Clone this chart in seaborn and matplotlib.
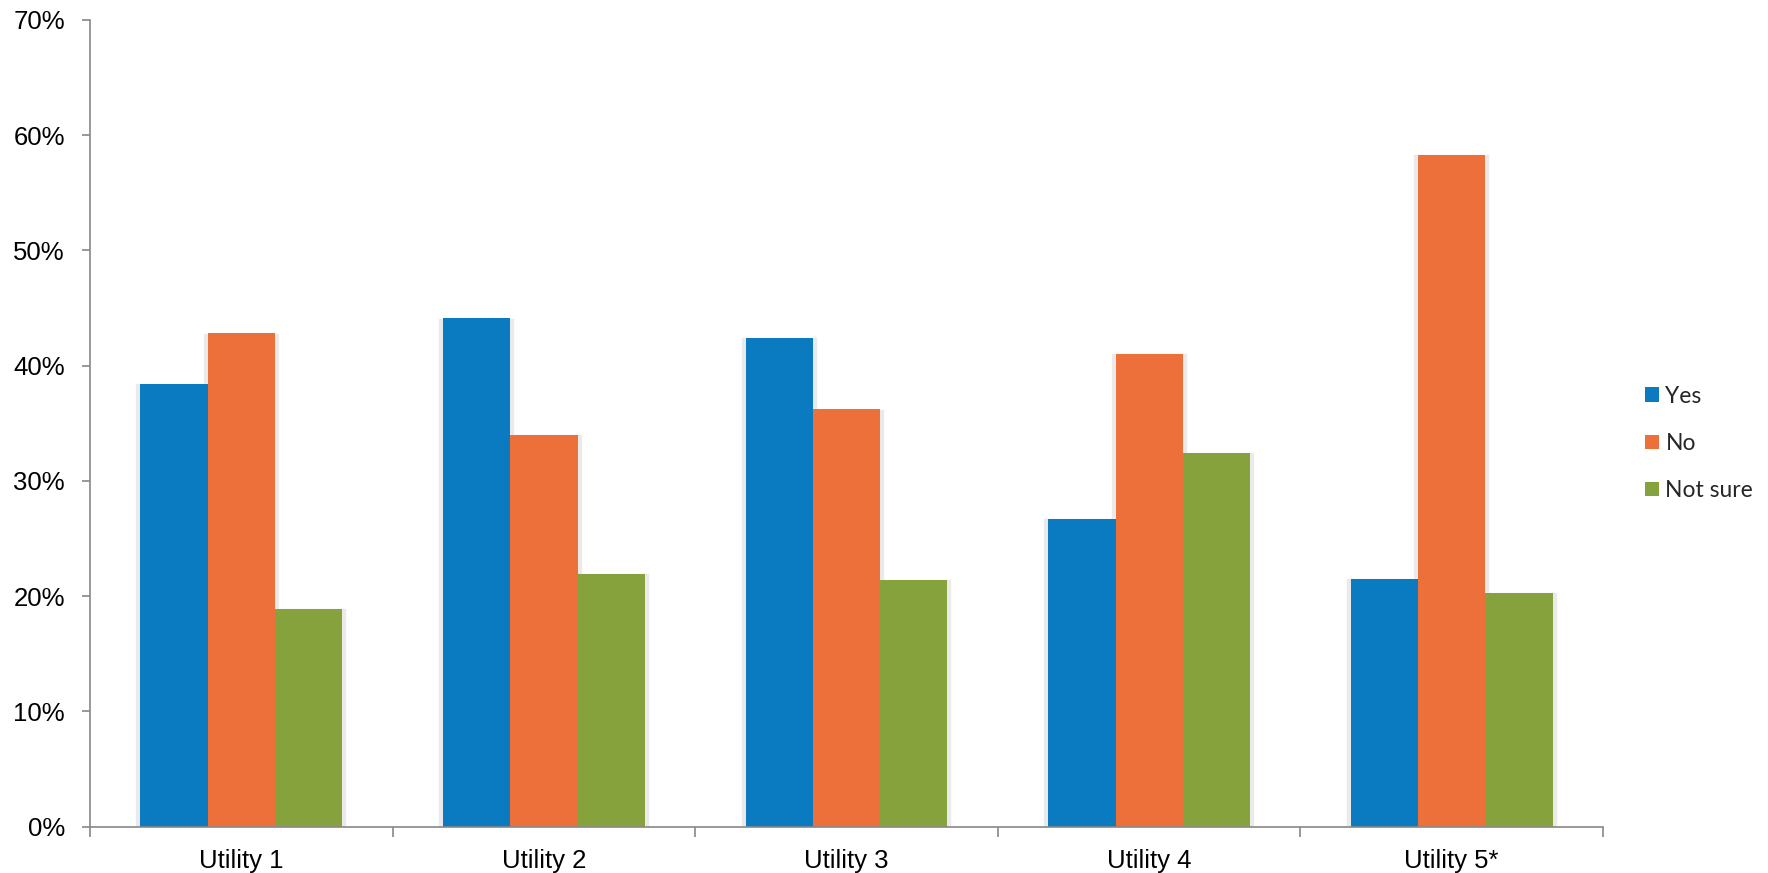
import matplotlib
matplotlib.use("Agg")
import matplotlib.pyplot as plt
import matplotlib.patheffects as pe
from matplotlib.ticker import FuncFormatter, FixedLocator
import seaborn as sns
import pandas as pd

# Survey responses by utility (share of respondents, %)
utilities = ["Utility 1", "Utility 2", "Utility 3", "Utility 4", "Utility 5*"]
answers = ["Yes", "No", "Not sure"]
yes_pct = [38.4, 44.1, 42.4, 26.7, 21.5]
no_pct = [42.8, 34.0, 36.2, 41.0, 58.3]
not_sure_pct = [18.9, 21.9, 21.4, 32.4, 20.3]
y_ticks = [0, 10, 20, 30, 40, 50, 60, 70]

colors = ["#0B7BC1", "#ED703A", "#85A23D"]

df = pd.DataFrame({
    "utility": utilities * 3,
    "answer": [a for a in answers for _ in utilities],
    "pct": yes_pct + no_pct + not_sure_pct,
})

sns.set_theme(style="white")
plt.rcParams["font.family"] = ["Liberation Sans", "DejaVu Sans"]

fig = plt.figure(figsize=(17.68, 8.73), dpi=100)
ax = fig.add_axes([0.0509, 0.0532, 0.8558, 0.924])

bar_kw = dict(data=df, x="utility", y="pct", hue="answer", order=utilities,
              hue_order=answers, width=2 / 3, gap=0, saturation=1,
              linewidth=0, errorbar=None, ax=ax)

# soft drop-shadow layer drawn first, underneath all bars
sns.barplot(palette=["#ececec"] * 3, legend=False, **bar_kw)
shadow = [pe.SimplePatchShadow(offset=(0, -3), shadow_rgbFace="#eaeaea",
                               alpha=1.0, foreground="#eaeaea", linewidth=6)]
for bar in ax.patches:
    bar.set_path_effects(shadow)
    bar.set_zorder(1)
n_shadow = len(ax.patches)

# the bars themselves
sns.barplot(palette=colors, **bar_kw)
for bar in ax.patches[n_shadow:]:
    bar.set_zorder(2)

ax.set_ylim(0, 70)
ax.set_xlim(-0.5, len(utilities) - 0.5)
ax.set_yticks(y_ticks)
ax.yaxis.set_major_formatter(FuncFormatter(lambda v, _: f"{v:.0f}%"))
ax.set_xlabel("")
ax.set_ylabel("")

# category boundaries carry the x tick marks
ax.xaxis.set_minor_locator(FixedLocator([i - 0.5 for i in range(len(utilities) + 1)]))
ax.tick_params(axis="x", which="major", length=0, pad=16, labelsize=18.5,
               labelcolor="black")
ax.tick_params(axis="x", which="minor", bottom=True, length=7, width=1.2,
               color="#888888", direction="out")
ax.tick_params(axis="y", which="major", left=True, length=6, width=1.2,
               color="#888888", direction="out", pad=12, labelsize=18.5,
               labelcolor="black")

for side in ["top", "right"]:
    ax.spines[side].set_visible(False)
for side in ["left", "bottom"]:
    ax.spines[side].set_color("#888888")
    ax.spines[side].set_linewidth(1.2)
    ax.spines[side].set_zorder(3)

ax.legend(loc="center left", bbox_to_anchor=(1.014, 0.475), frameon=False,
          handlelength=0.6, handleheight=0.6, handletextpad=0.3,
          labelspacing=1.14, prop={"family": "Lato", "size": 16.5})

fig.savefig("out.png", dpi=100, facecolor="white")
